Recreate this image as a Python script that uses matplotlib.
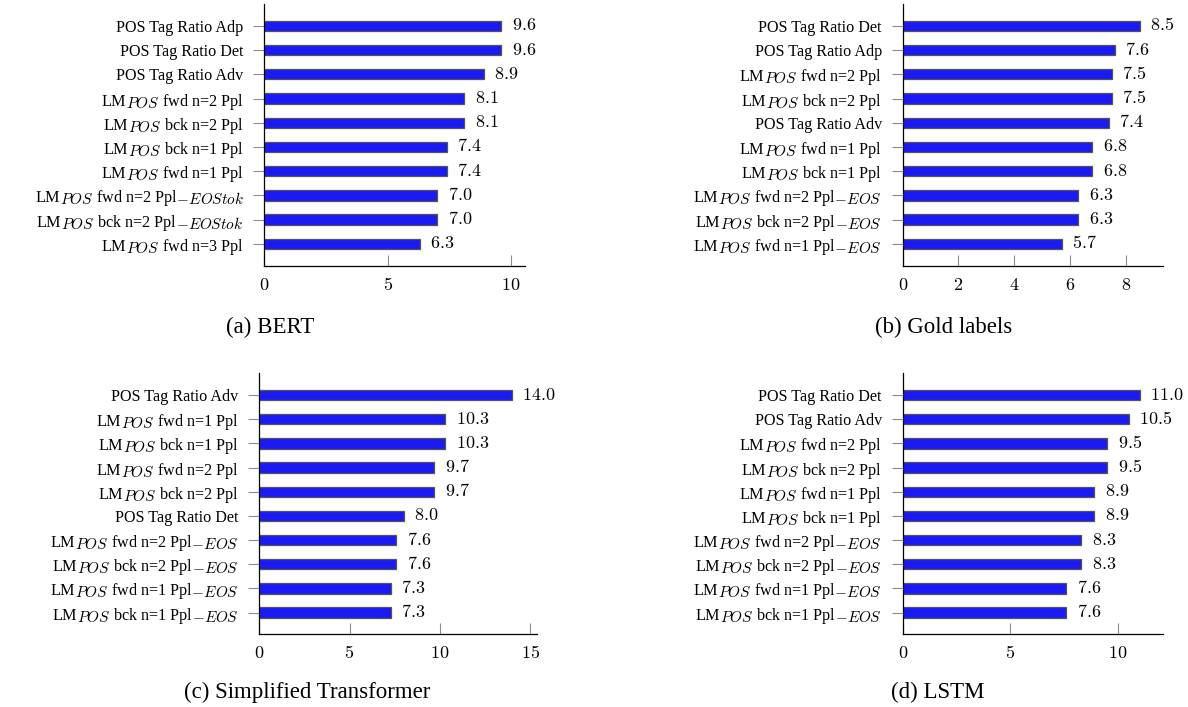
import matplotlib
matplotlib.use('Agg')
import matplotlib.pyplot as plt
import matplotlib._mathtext as _mt

# larger math subscripts, like the LaTeX original
_mt.SHRINK_FACTOR = 0.95

plt.rcParams['font.family'] = ['Liberation Serif', 'DejaVu Serif']
plt.rcParams['mathtext.fontset'] = 'cm'

# ---------------- data ----------------
bert_labels = ["POS Tag Ratio Adp", "POS Tag Ratio Det", "POS Tag Ratio Adv",
               "LM$_{POS}$ fwd n=2 Ppl", "LM$_{POS}$ bck n=2 Ppl",
               "LM$_{POS}$ bck n=1 Ppl", "LM$_{POS}$ fwd n=1 Ppl",
               "LM$_{POS}$ fwd n=2 Ppl$_{-EOStok}$",
               "LM$_{POS}$ bck n=2 Ppl$_{-EOStok}$",
               "LM$_{POS}$ fwd n=3 Ppl"]
bert_values = [9.6, 9.6, 8.9, 8.1, 8.1, 7.4, 7.4, 7.0, 7.0, 6.3]
bert_xticks = [0, 5, 10]

gold_labels = ["POS Tag Ratio Det", "POS Tag Ratio Adp",
               "LM$_{POS}$ fwd n=2 Ppl", "LM$_{POS}$ bck n=2 Ppl",
               "POS Tag Ratio Adv",
               "LM$_{POS}$ fwd n=1 Ppl", "LM$_{POS}$ bck n=1 Ppl",
               "LM$_{POS}$ fwd n=2 Ppl$_{-EOS}$",
               "LM$_{POS}$ bck n=2 Ppl$_{-EOS}$",
               "LM$_{POS}$ fwd n=1 Ppl$_{-EOS}$"]
gold_values = [8.5, 7.6, 7.5, 7.5, 7.4, 6.8, 6.8, 6.3, 6.3, 5.7]
gold_xticks = [0, 2, 4, 6, 8]

trans_labels = ["POS Tag Ratio Adv",
                "LM$_{POS}$ fwd n=1 Ppl", "LM$_{POS}$ bck n=1 Ppl",
                "LM$_{POS}$ fwd n=2 Ppl", "LM$_{POS}$ bck n=2 Ppl",
                "POS Tag Ratio Det",
                "LM$_{POS}$ fwd n=2 Ppl$_{-EOS}$",
                "LM$_{POS}$ bck n=2 Ppl$_{-EOS}$",
                "LM$_{POS}$ fwd n=1 Ppl$_{-EOS}$",
                "LM$_{POS}$ bck n=1 Ppl$_{-EOS}$"]
trans_values = [14.0, 10.3, 10.3, 9.7, 9.7, 8.0, 7.6, 7.6, 7.3, 7.3]
trans_xticks = [0, 5, 10, 15]

lstm_labels = ["POS Tag Ratio Det", "POS Tag Ratio Adv",
               "LM$_{POS}$ fwd n=2 Ppl", "LM$_{POS}$ bck n=2 Ppl",
               "LM$_{POS}$ fwd n=1 Ppl", "LM$_{POS}$ bck n=1 Ppl",
               "LM$_{POS}$ fwd n=2 Ppl$_{-EOS}$",
               "LM$_{POS}$ bck n=2 Ppl$_{-EOS}$",
               "LM$_{POS}$ fwd n=1 Ppl$_{-EOS}$",
               "LM$_{POS}$ bck n=1 Ppl$_{-EOS}$"]
lstm_values = [11.0, 10.5, 9.5, 9.5, 8.9, 8.9, 8.3, 8.3, 7.6, 7.6]
lstm_xticks = [0, 5, 10]

captions = ["(a) BERT", "(b) Gold labels", "(c) Simplified Transformer", "(d) LSTM"]

# ---------------- layout ----------------
W, H = 1188, 707
fig = plt.figure(figsize=(W / 100, H / 100), dpi=100)

def axes_px(l, t, r, b):
    return fig.add_axes([l / W, 1 - b / H, (r - l) / W, (b - t) / H])

panels = [
    (axes_px(264.3, 4, 525, 265.7), bert_labels, bert_values, bert_xticks, (270, 327)),
    (axes_px(902.7, 4, 1163.3, 265.7), gold_labels, gold_values, gold_xticks, (944, 327)),
    (axes_px(259.3, 373.3, 537.3, 634.3), trans_labels, trans_values, trans_xticks, (307, 692)),
    (axes_px(902.7, 373.3, 1163.3, 634.3), lstm_labels, lstm_values, lstm_xticks, (938, 692)),
]

BAR_FACE = '#1a1af5'
BAR_EDGE = '#555555'
TICK_COL = '#8c8c8c'

for (ax, labels, values, xticks, cap_pos), cap in zip(panels, captions):
    n = len(values)
    pos = list(range(n))
    bars = ax.barh(pos, values, height=0.43, color=BAR_FACE,
                   edgecolor=BAR_EDGE, linewidth=0.9)
    ax.set_ylim(n - 1 + 0.9, -0.9)
    ax.set_xlim(0, max(values) * 1.1)
    ax.set_yticks(pos)
    ax.set_yticklabels(labels, fontsize=11.6)
    ax.set_xticks(xticks)
    ax.set_xticklabels([f'${t}$' for t in xticks], fontsize=13)
    ax.bar_label(bars, labels=[f'${v:.1f}$' for v in values],
                 padding=7.5, fontsize=13)
    for s in ('top', 'right'):
        ax.spines[s].set_visible(False)
    for s in ('left', 'bottom'):
        ax.spines[s].set_linewidth(0.9)
        ax.spines[s].set_color('black')
    ax.tick_params(axis='y', direction='out', length=8, width=0.8,
                   color=TICK_COL, pad=7)
    ax.tick_params(axis='x', direction='in', length=7.7, width=0.8,
                   color=TICK_COL, pad=8)
    fig.text(cap_pos[0] / W, 1 - cap_pos[1] / H, cap, fontsize=16.5,
             ha='center', va='center')

fig.savefig('out.png', dpi=100)
